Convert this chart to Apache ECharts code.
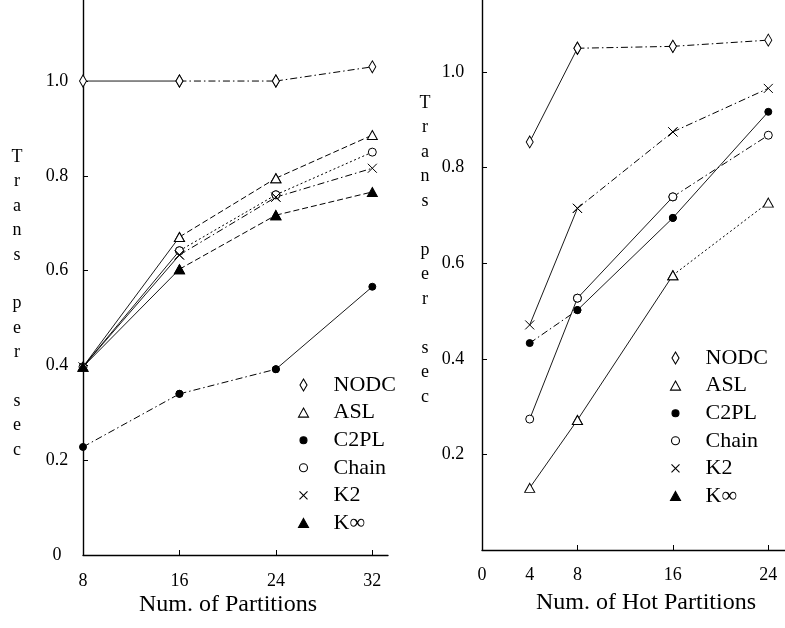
<!DOCTYPE html>
<html><head><meta charset="utf-8">
<script src="https://cdn.jsdelivr.net/npm/echarts@6/dist/echarts.min.js"></script>
<style>html,body{margin:0;padding:0;background:#fff}#c{width:785px;height:628px}</style>
</head><body><div id="c"></div>
<script>
// ---- data ----
const seriesNames = ['NODC', 'ASL', 'C2PL', 'Chain', 'K2', 'K\u221e'];
const leftX = [8, 16, 24, 32];
const leftNODC = [1.0, 1.0, 1.0, 1.03];
const leftASL = [0.397, 0.671, 0.795, 0.886];
const leftC2PL = [0.228, 0.34, 0.392, 0.566];
const leftChain = [0.397, 0.642, 0.76, 0.85];
const leftK2 = [0.397, 0.633, 0.755, 0.816];
const leftKinf = [0.397, 0.603, 0.717, 0.766];
const rightX = [4, 8, 16, 24];
const rightNODC = [0.854, 1.05, 1.054, 1.067];
const rightASL = [0.13, 0.272, 0.575, 0.727];
const rightC2PL = [0.433, 0.502, 0.695, 0.917];
const rightChain = [0.274, 0.527, 0.739, 0.868];
const rightK2 = [0.471, 0.715, 0.875, 0.966];
const rightKinf = [];
const leftXLabels = [8, 16, 24, 32];
const leftXTicks = [16, 24, 32];
const rightXLabels = [0, 4, 8, 16, 24];
const rightXTicks = [8, 16, 24];
const leftYLabels = [0, 0.2, 0.4, 0.6, 0.8, 1.0];
const rightYLabels = [0.2, 0.4, 0.6, 0.8, 1.0];
const yTicks = [0.2, 0.4, 0.6, 0.8, 1.0];
const leftXTitle = 'Num. of Partitions';
const rightXTitle = 'Num. of Hot Partitions';
const yTitle = 'T\nr\na\nn\ns\n\np\ne\nr\n\ns\ne\nc';

// ---- styles ----
const FONT = '"Liberation Serif", "DejaVu Serif", serif';
const DASH = {solid: 'solid', dd: [7, 3, 1.5, 3], dash: [6, 3], dot: [2, 2.5]};
const hollow = {color: '#fff', borderColor: '#000', borderWidth: 1};
const filled = {color: '#000', borderColor: '#000', borderWidth: 1};
const markStyles = {
  'NODC': {symbol: 'diamond', symbolSize: [7, 12], itemStyle: hollow},
  'ASL': {symbol: 'triangle', symbolSize: [10, 9], itemStyle: hollow},
  'C2PL': {symbol: 'circle', symbolSize: 7, itemStyle: filled},
  'Chain': {symbol: 'circle', symbolSize: 8, itemStyle: hollow},
  'K2': {symbol: 'path://M0,0L10,10M10,0L0,10', symbolSize: 9, itemStyle: {color: 'none', borderColor: '#000', borderWidth: 1}},
  'K\u221e': {symbol: 'triangle', symbolSize: [10, 9], itemStyle: filled}
};
// line pattern of each segment, per panel
const segStyles = [
  {'NODC': ['solid', 'dd', 'dd'], 'ASL': ['solid', 'dash', 'dash'], 'C2PL': ['dd', 'dd', 'solid'],
   'Chain': ['solid', 'dot', 'dot'], 'K2': ['solid', 'dd', 'dd'], 'K\u221e': ['solid', 'dash', 'dash']},
  {'NODC': ['solid', 'dd', 'dd'], 'ASL': ['solid', 'solid', 'dot'], 'C2PL': ['dd', 'solid', 'solid'],
   'Chain': ['solid', 'solid', 'dd'], 'K2': ['solid', 'dd', 'dd'], 'K\u221e': ['dd', 'dd', 'dd']}
];
const BOX = 'M0,0L0,0M32,16L32,16';
const legendIcons = {
  'NODC': 'path://' + BOX + 'M7,2L10.5,8L7,14L3.5,8Z',
  'ASL': 'path://' + BOX + 'M7,3.5L12,12.5L2,12.5Z',
  'C2PL': 'path://' + BOX + 'M3.5,8A3.5,3.5 0 1 1 10.5,8A3.5,3.5 0 1 1 3.5,8Z',
  'Chain': 'path://' + BOX + 'M3,8A4,4 0 1 1 11,8A4,4 0 1 1 3,8Z',
  'K2': 'path://' + BOX + 'M3,4L11,12M11,4L3,12',
  'K\u221e': 'path://' + BOX + 'M7,3.5L12,12.5L2,12.5Z'
};

const leftData = [leftNODC, leftASL, leftC2PL, leftChain, leftK2, leftKinf];
const rightData = [rightNODC, rightASL, rightC2PL, rightChain, rightK2, rightKinf];

function mkSeries(name, xs, ys, idx) {
  const m = markStyles[name];
  const segs = segStyles[idx][name];
  const pts = ys.map((v, i) => [xs[i], v]);
  const out = [];
  if (pts.length < 2) {
    out.push({name: name, type: 'line', xAxisIndex: idx, yAxisIndex: idx, data: pts,
      symbol: m.symbol, symbolSize: m.symbolSize, itemStyle: m.itemStyle,
      lineStyle: {color: '#000', width: 1}});
    return out;
  }
  for (let i = 0; i < pts.length - 1; i++) {
    out.push({
      name: name, type: 'line', xAxisIndex: idx, yAxisIndex: idx,
      data: [pts[i], pts[i + 1]],
      symbol: m.symbol, symbolSize: m.symbolSize, showAllSymbol: true,
      itemStyle: m.itemStyle,
      lineStyle: {color: '#000', width: segs[i] === 'solid' ? 0.9 : 1, type: DASH[segs[i]]},
      emphasis: {disabled: true}, animation: false, z: 3
    });
  }
  return out;
}
const series = [];
seriesNames.forEach((n, i) => series.push(...mkSeries(n, leftX, leftData[i], 0)));
seriesNames.forEach((n, i) => series.push(...mkSeries(n, rightX, rightData[i], 1)));

function mkLegend(left, top) {
  return {
    left: left, top: top, orient: 'vertical', itemWidth: 32, itemHeight: 16, itemGap: 5.6,
    selectedMode: false, symbolKeepAspect: true,
    textStyle: {fontFamily: FONT, fontSize: 22, color: '#000'},
    data: seriesNames.map(n => ({
      name: n, icon: legendIcons[n],
      itemStyle: {color: markStyles[n].itemStyle.color, borderColor: '#000', borderWidth: 1.1}
    }))
  };
}
const axisLine = {show: true, onZero: false, lineStyle: {color: '#000', width: 1.4}};
const labelStyle = {fontFamily: FONT, fontSize: 18, color: '#000'};
const fmt = v => (v === 0 ? '0' : Number(v).toFixed(1));

const option = {
  backgroundColor: '#fff',
  animation: false,
  grid: [
    {left: 83, top: 0, width: 305, height: 555},
    {left: 482, top: 0, width: 303, height: 550}
  ],
  xAxis: [
    {type: 'value', gridIndex: 0, min: 8, max: 33.3, axisLine: axisLine,
     axisTick: {show: true, inside: true, length: 5, customValues: leftXTicks, lineStyle: {color: '#000'}},
     axisLabel: Object.assign({customValues: leftXLabels, margin: 17}, labelStyle),
     splitLine: {show: false}},
    {type: 'value', gridIndex: 1, min: 0, max: 25.4, axisLine: axisLine,
     axisTick: {show: true, inside: true, length: 5, customValues: rightXTicks, lineStyle: {color: '#000'}},
     axisLabel: Object.assign({customValues: rightXLabels, margin: 16}, labelStyle),
     splitLine: {show: false}}
  ],
  yAxis: [
    {type: 'value', gridIndex: 0, min: 0, max: 1.171, axisLine: axisLine,
     axisTick: {show: true, inside: true, length: 5, customValues: yTicks, lineStyle: {color: '#000'}},
     axisLabel: Object.assign({customValues: leftYLabels, margin: 26, align: 'center', formatter: fmt}, labelStyle),
     splitLine: {show: false}},
    {type: 'value', gridIndex: 1, min: 0, max: 1.151, axisLine: axisLine,
     axisTick: {show: true, inside: true, length: 5, customValues: yTicks, lineStyle: {color: '#000'}},
     axisLabel: Object.assign({customValues: rightYLabels, margin: 29, align: 'center', formatter: fmt}, labelStyle),
     splitLine: {show: false}}
  ],
  legend: [mkLegend(289, 369), mkLegend(661, 342)],
  graphic: [
    {type: 'text', x: 17, y: 145, style: {text: yTitle, font: '18px ' + FONT, fill: '#000', lineHeight: 24.4, align: 'center', verticalAlign: 'top'}},
    {type: 'text', x: 425, y: 91, style: {text: yTitle, font: '18px ' + FONT, fill: '#000', lineHeight: 24.5, align: 'center', verticalAlign: 'top'}},
    {type: 'text', x: 228, y: 605, style: {text: leftXTitle, font: '24px ' + FONT, fill: '#000', align: 'center', verticalAlign: 'middle'}},
    {type: 'text', x: 646, y: 603, style: {text: rightXTitle, font: '24px ' + FONT, fill: '#000', align: 'center', verticalAlign: 'middle'}}
  ],
  series: series
};
const chart = echarts.init(document.getElementById('c'), null, {renderer: 'canvas'});
chart.setOption(option);
</script></body></html>
